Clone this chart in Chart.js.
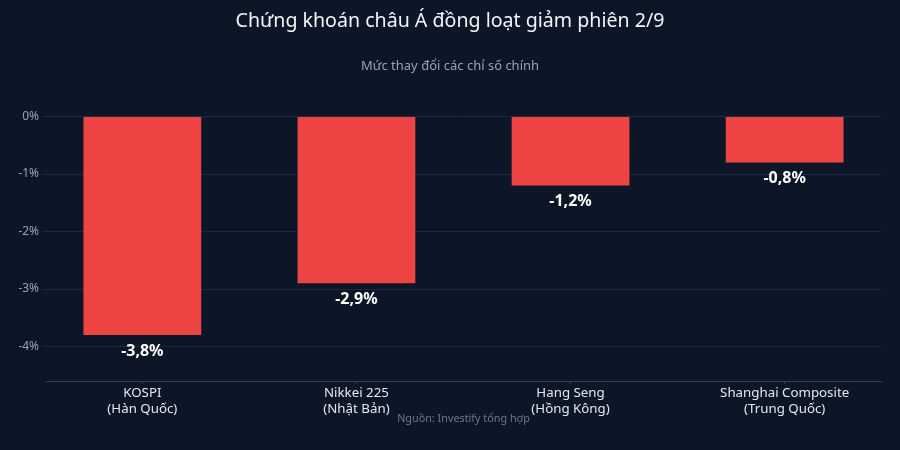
<!DOCTYPE html>
<html lang="vi">
<head>
<meta charset="utf-8">
<title>Chứng khoán châu Á đồng loạt giảm phiên 2/9</title>
<script src="https://cdn.jsdelivr.net/npm/chart.js@4.4.1/dist/chart.umd.min.js"></script>
<style>
  html, body { margin: 0; padding: 0; background: #0d1627; }
  #wrap { width: 900px; height: 450px; position: relative; }
</style>
</head>
<body>
<div id="wrap"><canvas id="canvas"></canvas></div>
<script>
// du lieu doc tu hinh
const categories = [
    ['KOSPI', '(Hàn Quốc)'],
    ['Nikkei 225', '(Nhật Bản)'],
    ['Hang Seng', '(Hồng Kông)'],
    ['Shanghai Composite', '(Trung Quốc)']
];
const changes = [-3.8, -2.9, -1.2, -0.8];
const yTicks = [0, -1, -2, -3, -4];

const titleText = 'Chứng khoán châu Á đồng loạt giảm phiên 2/9';
const subtitleText = 'Mức thay đổi các chỉ số chính';
const sourceText = 'Nguồn: Investify tổng hợp';

const fontFamily = '"Noto Sans", "Open Sans", sans-serif';

function fmt(v) {
    return v.toFixed(1).replace('.', ',') + '%';
}

// nhan gia tri duoi moi cot
const valueLabels = {
    id: 'valueLabels',
    afterDatasetsDraw(chart) {
        const ctx = chart.ctx;
        const meta = chart.getDatasetMeta(0);
        ctx.save();
        ctx.fillStyle = '#ffffff';
        ctx.font = 'bold 16px ' + fontFamily;
        ctx.textAlign = 'center';
        ctx.textBaseline = 'middle';
        meta.data.forEach(function(bar, i) {
            ctx.fillText(fmt(changes[i]), bar.x, bar.y + 16);
        });
        ctx.restore();
    }
};

// dong nguon, giua vung ve
const sourceNote = {
    id: 'sourceNote',
    afterDraw(chart) {
        const ctx = chart.ctx;
        const area = chart.chartArea;
        ctx.save();
        ctx.fillStyle = '#6b7789';
        ctx.font = '10.8px ' + fontFamily;
        ctx.textAlign = 'center';
        ctx.textBaseline = 'middle';
        ctx.fillText(sourceText, (area.left + area.right) / 2, 419);
        ctx.restore();
    }
};

var config = {
    type: 'bar',
    data: {
        datasets: [{
            label: 'Thay đổi',
            data: changes.map((v, i) => ({ x: i, y: v })),
            backgroundColor: '#ef4444',
            borderWidth: 0,
            categoryPercentage: 1,
            barPercentage: 0.55
        }]
    },
    options: {
        responsive: true,
        maintainAspectRatio: false,
        animation: false,
        layout: {
            padding: { left: 19, right: 19, top: 0, bottom: 0 }
        },
        scales: {
            x: {
                type: 'linear',
                offset: false,
                min: -0.45,
                max: categories.length - 0.55,
                afterBuildTicks: (scale) => {
                    scale.ticks = categories.map((c, i) => ({ value: i }));
                },
                afterFit: (scale) => { scale.height = 69; },
                grid: {
                    offset: false,
                    drawOnChartArea: false,
                    drawTicks: true,
                    tickLength: 3,
                    tickColor: '#334155'
                },
                border: { display: true, color: '#334155', width: 1 },
                ticks: {
                    autoSkip: false,
                    maxRotation: 0,
                    padding: 1,
                    color: '#e2e8f0',
                    font: { family: fontFamily, size: 13.3, lineHeight: 1.2 },
                    callback: (v) => categories[v]
                }
            },
            y: {
                min: -4.6,
                max: 0,
                afterBuildTicks: (scale) => {
                    scale.ticks = yTicks.map((v) => ({ value: v }));
                },
                afterFit: (scale) => { scale.width = 27; },
                grid: {
                    color: '#1e293b',
                    tickColor: '#1e293b',
                    tickLength: 4,
                    lineWidth: 1
                },
                border: { display: false },
                ticks: {
                    padding: 3,
                    color: '#94a3b8',
                    font: { family: fontFamily, size: 12 },
                    callback: (v) => v + '%'
                }
            }
        },
        plugins: {
            legend: { display: false },
            tooltip: { enabled: false },
            title: {
                display: true,
                text: titleText,
                color: '#f1f5f9',
                font: { family: fontFamily, size: 19.6, weight: 'normal', lineHeight: 1.2 },
                padding: { top: 10, bottom: 25 }
            },
            subtitle: {
                display: true,
                text: subtitleText,
                color: '#94a3b8',
                font: { family: fontFamily, size: 13, lineHeight: 1.2 },
                padding: { top: 0, bottom: 42.4 }
            }
        }
    },
    plugins: [valueLabels, sourceNote]
};

var ctx = document.getElementById('canvas').getContext('2d');
window.myBar = new Chart(ctx, config);
</script>
</body>
</html>
